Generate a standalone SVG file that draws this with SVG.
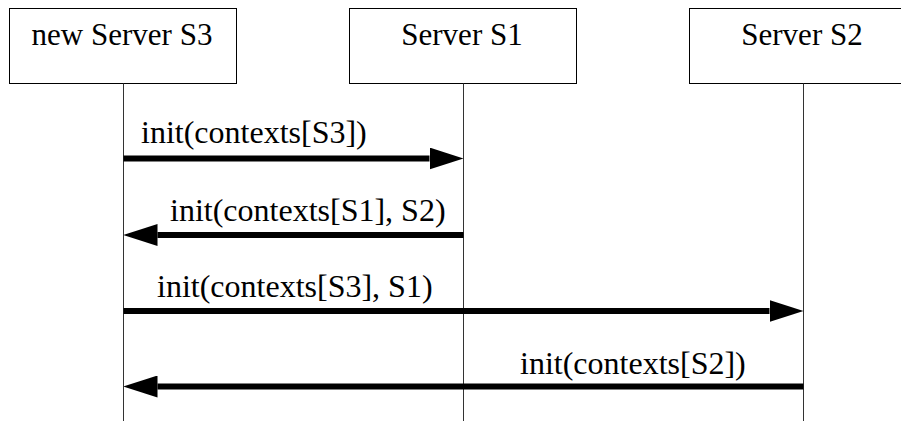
<svg xmlns="http://www.w3.org/2000/svg" width="901" height="421" viewBox="0 0 901 421">
<style>
.box{fill:#fff;stroke:#000;stroke-width:1}
.life{stroke:#333;stroke-width:1;fill:none}
.msg{stroke:#000;stroke-width:6;fill:none;marker-end:url(#ah)}
.t{font-family:'Liberation Serif','Tinos','DejaVu Serif',serif;font-size:32px;fill:#000}
.nt{text-anchor:middle;font-size:31px}
</style>
<defs>
<marker id="ah" markerUnits="userSpaceOnUse" markerWidth="34" markerHeight="22" viewBox="0 0 34 22" refX="0" refY="11" orient="auto">
<path d="M0,0 L34,11 L0,22 z" fill="#000"/>
</marker>
</defs>
<rect width="901" height="421" fill="#fff"/>
<g id="node-s3">
<rect class="box" x="9.5" y="8.5" width="227" height="75"/>
<line class="life" x1="123.5" y1="83.5" x2="123.5" y2="421"/>
<text class="t nt" x="122" y="45" font-family="Liberation Serif, serif">new Server S3</text>
</g>
<g id="node-s1">
<rect class="box" x="349.5" y="8.5" width="227" height="75"/>
<line class="life" x1="463.5" y1="83.5" x2="463.5" y2="421"/>
<text class="t nt" x="462" y="45">Server S1</text>
</g>
<g id="node-s2">
<rect class="box" x="689.5" y="8.5" width="227" height="75"/>
<line class="life" x1="803.5" y1="83.5" x2="803.5" y2="421"/>
<text class="t nt" x="802" y="45">Server S2</text>
</g>
<g id="connectors">
<line class="msg" x1="123.5" y1="158.5" x2="429.5" y2="158.5"/>
<text class="t" x="141" y="143">init(contexts[S3])</text>
<line class="msg" x1="463.5" y1="235" x2="157.5" y2="235"/>
<text class="t" x="170" y="221">init(contexts[S1], S2)</text>
<line class="msg" x1="123.5" y1="311" x2="769.5" y2="311"/>
<text class="t" x="157" y="297">init(contexts[S3], S1)</text>
<line class="msg" x1="803.5" y1="386.5" x2="157.5" y2="386.5"/>
<text class="t" x="520" y="374">init(contexts[S2])</text>
</g>
</svg>
